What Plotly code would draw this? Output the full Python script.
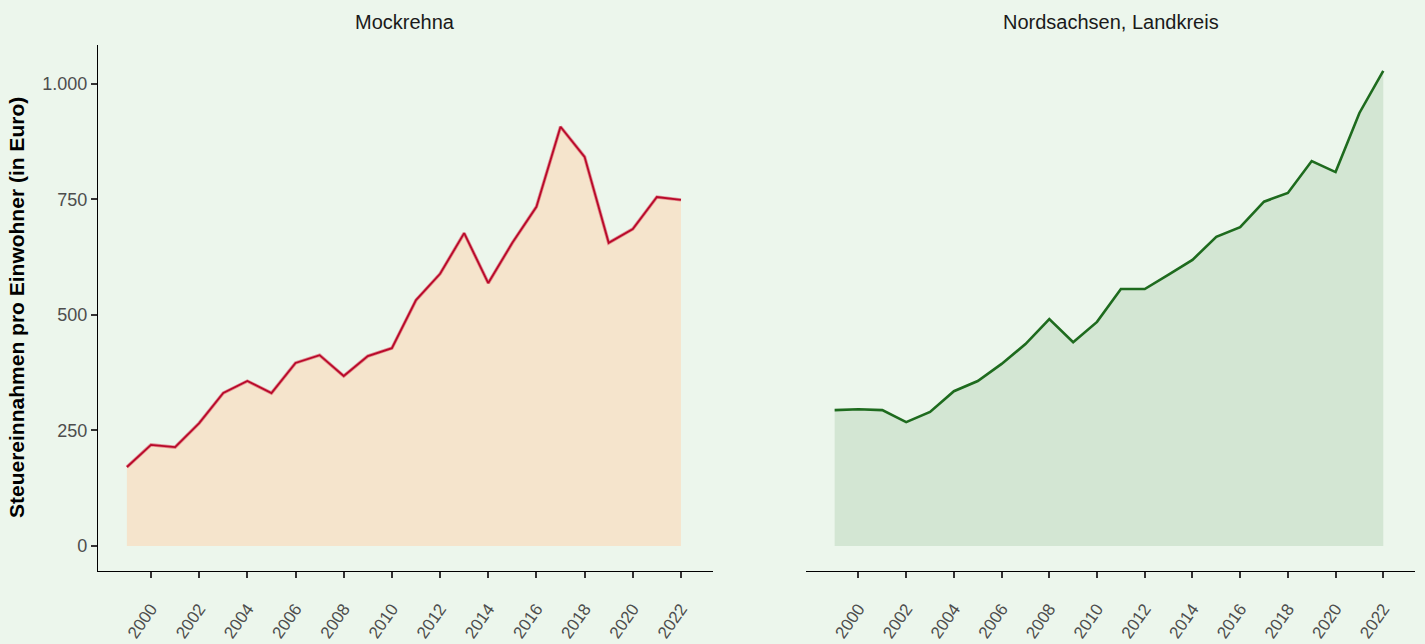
import plotly.graph_objects as go

years = list(range(1999, 2023))
mockrehna = [171, 219, 214, 266, 331, 357, 331, 396, 413, 368, 411, 428, 532, 589,
             677, 569, 656, 734, 907, 842, 656, 686, 755, 749]
nordsachsen = [294, 296, 294, 268, 290, 335, 357, 394, 437, 491, 441, 485, 556, 556,
               587, 619, 669, 690, 745, 764, 833, 809, 937, 1028]
panel_titles = ["Mockrehna", "Nordsachsen, Landkreis"]
y_tickvals = [0, 250, 500, 750, 1000]
y_ticktext = ["0", "250", "500", "750", "1.000"]
x_tickvals = list(range(2000, 2023, 2))
x_ticktext = [str(v) for v in x_tickvals]

BG = "#ECF6EC"
fig = go.Figure()

# Left panel
fig.add_trace(go.Scatter(x=years, y=mockrehna, mode="lines", fill="tozeroy",
                         fillcolor="#F5E4CC", line=dict(color="rgba(215,60,80,0.55)", width=3.4),
                         xaxis="x", yaxis="y", hoverinfo="skip", showlegend=False))
fig.add_trace(go.Scatter(x=years, y=mockrehna, mode="lines",
                         line=dict(color="#B8092A", width=1.8),
                         xaxis="x", yaxis="y", showlegend=False))
# Right panel
fig.add_trace(go.Scatter(x=years, y=nordsachsen, mode="lines", fill="tozeroy",
                         fillcolor="#D3E6D3", line=dict(color="#1E6B1E", width=2.6),
                         xaxis="x2", yaxis="y2", showlegend=False))

W, H = 1425, 644
yr = [-54, 1084]
xr = [1997.8, 2023.33]
FONT = "Liberation Sans, Arial, sans-serif"
tickfont = dict(family=FONT, size=18, color="#4D4D4D")
xtickfont = dict(family=FONT, size=17, color="#4D4D4D")
common_x = dict(range=xr, tickvals=x_tickvals, ticktext=x_ticktext, tickangle=-55,
                showgrid=False, zeroline=False, showline=True, linecolor="#000000", linewidth=1.2,
                ticks="outside", ticklen=6, tickwidth=1.5, tickcolor="#333333",
                ticklabelstandoff=14, tickfont=xtickfont, automargin=False)

fig.update_layout(
    width=W, height=H,
    paper_bgcolor=BG, plot_bgcolor=BG,
    margin=dict(l=0, r=0, t=0, b=0),
    xaxis=dict(domain=[98 / W, 713 / W], anchor="y", **common_x),
    xaxis2=dict(domain=[806 / W, 1415 / W], anchor="y2", **common_x),
    yaxis=dict(domain=[1 - 571 / H, 1 - 45 / H], range=yr, tickvals=y_tickvals, ticktext=y_ticktext,
               showgrid=False, zeroline=False, showline=True, linecolor="#000000", linewidth=1.2,
               ticks="outside", ticklen=6, tickwidth=1.5, tickcolor="#333333",
               tickfont=tickfont, automargin=False, anchor="x"),
    yaxis2=dict(domain=[1 - 571 / H, 1 - 45 / H], range=yr, showgrid=False, zeroline=False,
                showline=False, showticklabels=False, ticks="", anchor="x2", automargin=False),
    font=dict(family=FONT),
    annotations=[
        dict(text=panel_titles[0], x=(98 + 713) / 2 / W, y=1 - 22 / H, xref="paper", yref="paper",
             showarrow=False, font=dict(size=20, color="#1A1A1A"), xanchor="center", yanchor="middle"),
        dict(text=panel_titles[1], x=(806 + 1415) / 2 / W, y=1 - 22 / H, xref="paper", yref="paper",
             showarrow=False, font=dict(size=20, color="#1A1A1A"), xanchor="center", yanchor="middle"),
        dict(text="<b>Steuereinnahmen pro Einwohner (in Euro)</b>", x=16 / W, y=1 - 308 / H,
             xref="paper", yref="paper", showarrow=False, textangle=-90,
             font=dict(size=21, color="#000000"), xanchor="center", yanchor="middle"),
    ],
)

fig.write_html("out.html", config={"displayModeBar": False},
               post_script="document.body.style.margin='0px';document.body.style.overflow='hidden';")
